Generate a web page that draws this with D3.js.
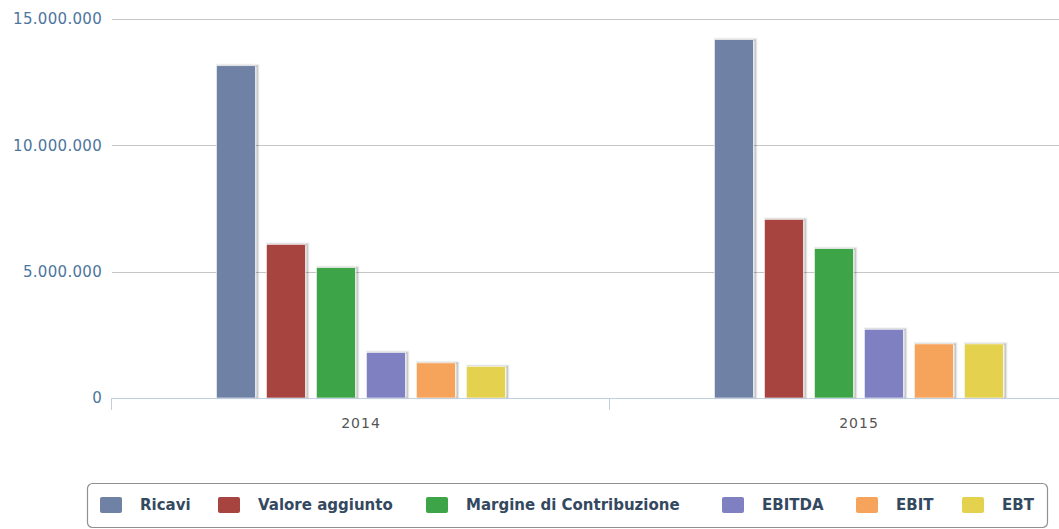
<!DOCTYPE html>
<html>
<head>
<meta charset="utf-8">
<script src="https://cdn.jsdelivr.net/npm/d3@7"></script>
<style>
    body { margin: 0; background: #fff; }
    svg { display: block; font-family: "DejaVu Sans", sans-serif; }
</style>
</head>
<body>
<script>
const years = ["2014", "2015"];
const seriesNames = ["Ricavi", "Valore aggiunto", "Margine di Contribuzione", "EBITDA", "EBIT", "EBT"];
const ricavi = [13150000, 14180000];
const valoreAggiunto = [6080000, 7070000];
const margine = [5160000, 5910000];
const ebitda = [1800000, 2720000];
const ebit = [1390000, 2140000];
const ebt = [1250000, 2140000];
const yTicks = [0, 5000000, 10000000, 15000000];
const colors = ["#7081a6", "#a8443f", "#3da548", "#7f80c2", "#f6a35b", "#e4d24f"];

const seriesValues = [ricavi, valoreAggiunto, margine, ebitda, ebit, ebt];

const W = 1059, H = 529;
const margin = { top: 19, left: 112, bottom: 131 };
const plotRight = 1108; // plot runs past the right edge, as in the picture
const h = H - margin.top - margin.bottom;

// where each legend label starts
const legendTextX = [140, 258, 466, 762, 896, 1002];

const svg = d3.select("body").append("svg")
    .attr("width", W)
    .attr("height", H);

const x = d3.scaleBand()
    .domain(years)
    .range([margin.left, plotRight])
    .padding(0);

const xInner = d3.scaleBand()
    .domain(seriesNames)
    .range([-150, 150])
    .paddingInner(0.22)
    .paddingOuter(0.11);

const y = d3.scaleLinear()
    .domain([0, 15000000])
    .range([margin.top + h, margin.top]);

const fmt = v => d3.format(",")(v).replace(/,/g, ".");

// grid
svg.append("g")
    .selectAll("line")
    .data(yTicks.filter(d => d > 0))
    .enter().append("line")
    .attr("x1", margin.left)
    .attr("x2", W)
    .attr("y1", d => Math.round(y(d)) + 0.5)
    .attr("y2", d => Math.round(y(d)) + 0.5)
    .attr("stroke", "#c6c6c6")
    .attr("stroke-width", 1);

// y labels
svg.append("g")
    .selectAll("text")
    .data(yTicks)
    .enter().append("text")
    .attr("x", 102)
    .attr("y", d => y(d))
    .attr("dy", "0.35em")
    .attr("text-anchor", "end")
    .style("font-size", "15px")
    .style("letter-spacing", "0.3px")
    .style("fill", "#4d759e")
    .text(fmt);

// bars
const groups = svg.append("g")
    .selectAll("g")
    .data(seriesNames)
    .enter().append("g");

groups.each(function (name, si) {
    const g = d3.select(this);
    const data = years.map((yr, i) => ({ yr, v: seriesValues[si][i] }));
    // soft shadow
    [3, 2, 1].forEach(k => {
        g.selectAll(null)
            .data(data)
            .enter().append("rect")
            .attr("x", d => x(d.yr) + x.bandwidth() / 2 + xInner(name) + 1)
            .attr("y", d => y(d.v) + 1 - k / 2)
            .attr("width", xInner.bandwidth() + k / 2)
            .attr("height", d => y(0) - y(d.v) + k / 2 - 1)
            .attr("fill", "none")
            .attr("stroke", "#000")
            .attr("stroke-opacity", 0.05 * (4 - k))
            .attr("stroke-width", k);
    });
    g.selectAll(".bar")
        .data(data)
        .enter().append("rect")
        .attr("class", "bar")
        .attr("x", d => x(d.yr) + x.bandwidth() / 2 + xInner(name))
        .attr("y", d => y(d.v))
        .attr("width", xInner.bandwidth())
        .attr("height", d => y(0) - y(d.v))
        .attr("fill", colors[si])
        .attr("stroke", "#fff")
        .attr("stroke-width", 0.6);
});

// x axis
const xAxis = svg.append("g");
xAxis.append("line")
    .attr("x1", margin.left)
    .attr("x2", W)
    .attr("y1", Math.round(y(0)) + 0.5)
    .attr("y2", Math.round(y(0)) + 0.5)
    .attr("stroke", "#c0d0e0");
xAxis.selectAll(".tick")
    .data([margin.left, ...years.map(d => x(d) + x.bandwidth())])
    .enter().append("line")
    .attr("x1", d => Math.round(d) - 0.5)
    .attr("x2", d => Math.round(d) - 0.5)
    .attr("y1", y(0))
    .attr("y2", y(0) + 12)
    .attr("stroke", "#c0d0e0");
xAxis.selectAll("text")
    .data(years)
    .enter().append("text")
    .attr("x", d => x(d) + x.bandwidth() / 2)
    .attr("y", 428)
    .attr("text-anchor", "middle")
    .style("font-size", "14px")
    .style("letter-spacing", "1px")
    .style("fill", "#555")
    .text(d => d);

// legend
const legend = svg.append("g");
legend.append("rect")
    .attr("x", 87.5)
    .attr("y", 483.5)
    .attr("width", 960)
    .attr("height", 44)
    .attr("rx", 5)
    .attr("fill", "#fff")
    .attr("stroke", "#909090")
    .attr("stroke-width", 1.2);

const items = legend.selectAll(".legend")
    .data(seriesNames)
    .enter().append("g")
    .attr("class", "legend")
    .attr("transform", (d, i) => `translate(${legendTextX[i] - 40},0)`);
items.append("rect")
    .attr("width", 22)
    .attr("height", 16)
    .attr("y", 497)
    .attr("rx", 2)
    .attr("fill", (d, i) => colors[i]);
items.append("text")
    .attr("x", 40)
    .attr("y", 505)
    .attr("dy", "0.35em")
    .style("font-size", "15px")
    .style("font-weight", "bold")
    .style("fill", "#34495f")
    .text(d => d);
</script>
</body>
</html>
